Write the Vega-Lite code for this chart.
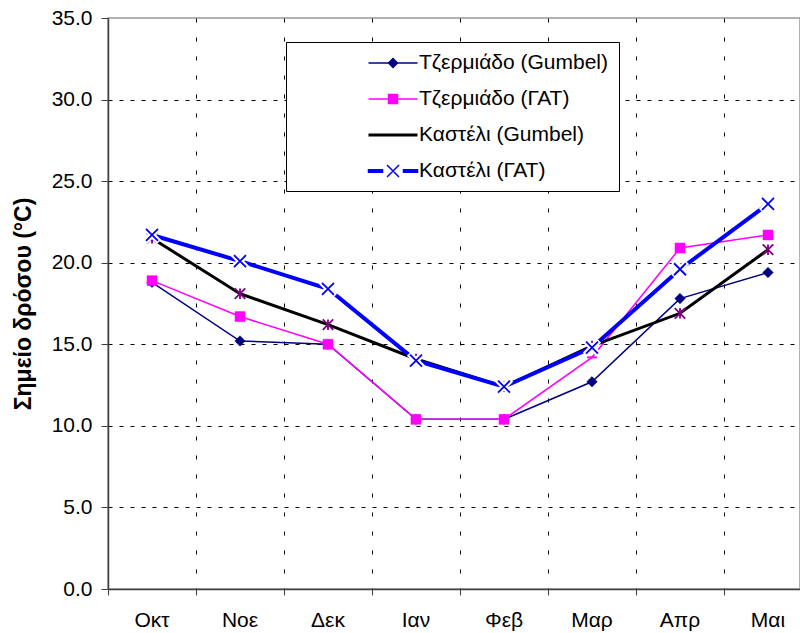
{
  "$schema": "https://vega.github.io/schema/vega-lite/v6.json",
  "width": 692,
  "height": 571,
  "autosize": "none",
  "padding": {"left": 108, "top": 18, "right": 0, "bottom": 44},
  "background": "white",
  "config": {
    "view": {"stroke": "#999999", "strokeWidth": 1.5},
    "font": "Liberation Sans"
  },
  "data": {
    "values": [
      {"month": "Οκτ", "series": "Τζερμιάδο (Gumbel)", "value": 18.8},
      {"month": "Νοε", "series": "Τζερμιάδο (Gumbel)", "value": 15.2},
      {"month": "Δεκ", "series": "Τζερμιάδο (Gumbel)", "value": 15.0},
      {"month": "Ιαν", "series": "Τζερμιάδο (Gumbel)", "value": 10.4},
      {"month": "Φεβ", "series": "Τζερμιάδο (Gumbel)", "value": 10.4},
      {"month": "Μαρ", "series": "Τζερμιάδο (Gumbel)", "value": 12.7},
      {"month": "Απρ", "series": "Τζερμιάδο (Gumbel)", "value": 17.8},
      {"month": "Μαι", "series": "Τζερμιάδο (Gumbel)", "value": 19.4},
      {"month": "Οκτ", "series": "Τζερμιάδο (ΓΑΤ)", "value": 18.9},
      {"month": "Νοε", "series": "Τζερμιάδο (ΓΑΤ)", "value": 16.7},
      {"month": "Δεκ", "series": "Τζερμιάδο (ΓΑΤ)", "value": 15.0},
      {"month": "Ιαν", "series": "Τζερμιάδο (ΓΑΤ)", "value": 10.4},
      {"month": "Φεβ", "series": "Τζερμιάδο (ΓΑΤ)", "value": 10.4},
      {"month": "Μαρ", "series": "Τζερμιάδο (ΓΑΤ)", "value": 14.2},
      {"month": "Απρ", "series": "Τζερμιάδο (ΓΑΤ)", "value": 20.9},
      {"month": "Μαι", "series": "Τζερμιάδο (ΓΑΤ)", "value": 21.7},
      {"month": "Οκτ", "series": "Καστέλι (Gumbel)", "value": 21.5},
      {"month": "Νοε", "series": "Καστέλι (Gumbel)", "value": 18.1},
      {"month": "Δεκ", "series": "Καστέλι (Gumbel)", "value": 16.2},
      {"month": "Ιαν", "series": "Καστέλι (Gumbel)", "value": 14.1},
      {"month": "Φεβ", "series": "Καστέλι (Gumbel)", "value": 12.4},
      {"month": "Μαρ", "series": "Καστέλι (Gumbel)", "value": 14.9},
      {"month": "Απρ", "series": "Καστέλι (Gumbel)", "value": 16.9},
      {"month": "Μαι", "series": "Καστέλι (Gumbel)", "value": 20.8},
      {"month": "Οκτ", "series": "Καστέλι (ΓΑΤ)", "value": 21.7},
      {"month": "Νοε", "series": "Καστέλι (ΓΑΤ)", "value": 20.1},
      {"month": "Δεκ", "series": "Καστέλι (ΓΑΤ)", "value": 18.4},
      {"month": "Ιαν", "series": "Καστέλι (ΓΑΤ)", "value": 14.0},
      {"month": "Φεβ", "series": "Καστέλι (ΓΑΤ)", "value": 12.4},
      {"month": "Μαρ", "series": "Καστέλι (ΓΑΤ)", "value": 14.8},
      {"month": "Απρ", "series": "Καστέλι (ΓΑΤ)", "value": 19.6},
      {"month": "Μαι", "series": "Καστέλι (ΓΑΤ)", "value": 23.6}
    ]
  },
  "encoding": {
    "x": {
      "field": "month",
      "type": "nominal",
      "sort": ["Οκτ", "Νοε", "Δεκ", "Ιαν", "Φεβ", "Μαρ", "Απρ", "Μαι"],
      "scale": {"type": "band", "range": [0, 704], "paddingInner": 0, "paddingOuter": 0},
      "axis": {
        "title": null,
        "bandPosition": 0,
        "labelAngle": 0,
        "labelFontSize": 21,
        "labelColor": "black",
        "labelPadding": 14,
        "tickSize": 6,
        "tickColor": "#404040",
        "domainColor": "#404040",
        "domainWidth": 1.5,
        "grid": true,
        "gridColor": "black",
        "gridDash": [4, 15],
        "gridOpacity": {"condition": {"test": "datum.value === 'Οκτ'", "value": 0}, "value": 1}
      }
    },
    "y": {
      "field": "value",
      "type": "quantitative",
      "scale": {"domain": [0, 35], "nice": false},
      "axis": {
        "title": "Σημείο δρόσου (°C)",
        "titleFontSize": 23,
        "titleFontWeight": "bold",
        "titleColor": "black",
        "titlePadding": 16,
        "values": [0, 5, 10, 15, 20, 25, 30, 35],
        "format": ".1f",
        "labelFontSize": 21,
        "labelColor": "black",
        "labelPadding": 9,
        "tickSize": 7,
        "tickColor": "#404040",
        "domainColor": "#404040",
        "domainWidth": 1.5,
        "grid": true,
        "gridColor": "black",
        "gridDash": [4, 7],
        "gridOpacity": {"condition": {"test": "datum.value == 0 || datum.value == 35", "value": 0}, "value": 1}
      }
    }
  },
  "layer": [
    {
      "transform": [{"filter": "datum.series === 'Τζερμιάδο (Gumbel)'"}],
      "mark": {"type": "line", "strokeWidth": 1.5},
      "encoding": {
        "color": {
          "field": "series",
          "type": "nominal",
          "scale": {
            "domain": ["Τζερμιάδο (Gumbel)", "Τζερμιάδο (ΓΑΤ)", "Καστέλι (Gumbel)", "Καστέλι (ΓΑΤ)"],
            "range": ["#000080", "#FF00FF", "#000000", "#0000FF"]
          },
          "legend": {
            "title": null,
            "orient": "none",
            "legendX": 178,
            "legendY": 24,
            "padding": 10,
            "strokeColor": "#000000",
            "fillColor": "#ffffff",
            "labelFont": "Liberation Sans",
            "labelFontSize": 21,
            "labelColor": "#000000",
            "labelOffset": 0,
            "labelLimit": 400,
            "rowPadding": 15,
            "symbolSize": 100,
            "encoding": {
              "labels": {"dx": {"value": 123}, "dy": {"value": 11}},
              "symbols": {
                "shape": {"value": {"expr": "['M14.5,2.2H24.3M19.4,1.3L20.3,2.2L19.4,3.1L18.5,2.2Z','M14.5,2.2H24.3M18.5,1.3H20.3V3.1H18.5Z','M14.5,2.2H24.3','M14.5,1.95H17.3V2.45H14.5ZM21.5,1.95H24.3V2.45H21.5ZM18.2,1L20.6,3.4M18.2,3.4L20.6,1'][indexof(['Τζερμιάδο (Gumbel)','Τζερμιάδο (ΓΑΤ)','Καστέλι (Gumbel)','Καστέλι (ΓΑΤ)'], datum.value)]"}},
                "fill": {"value": {"expr": "['#000080','#FF00FF','transparent','#0000FF'][indexof(['Τζερμιάδο (Gumbel)','Τζερμιάδο (ΓΑΤ)','Καστέλι (Gumbel)','Καστέλι (ΓΑΤ)'], datum.value)]"}},
                "stroke": {"value": {"expr": "['#000080','#FF00FF','#000000','#0000FF'][indexof(['Τζερμιάδο (Gumbel)','Τζερμιάδο (ΓΑΤ)','Καστέλι (Gumbel)','Καστέλι (ΓΑΤ)'], datum.value)]"}},
                "strokeWidth": {"value": {"expr": "[1.5,1.5,3,1.5][indexof(['Τζερμιάδο (Gumbel)','Τζερμιάδο (ΓΑΤ)','Καστέλι (Gumbel)','Καστέλι (ΓΑΤ)'], datum.value)]"}},
                "size": {"value": 100},
                "opacity": {"value": 1}
              }
            }
          }
        }
      }
    },
    {
      "transform": [{"filter": "datum.series === 'Τζερμιάδο (Gumbel)'"}],
      "mark": {"type": "point", "shape": "diamond", "filled": true, "fill": "#000080", "stroke": "#000080", "strokeWidth": 0.5, "size": 110, "opacity": 1}
    },
    {
      "transform": [{"filter": "datum.series === 'Τζερμιάδο (ΓΑΤ)'"}],
      "mark": {"type": "line", "strokeWidth": 1.5},
      "encoding": {"color": {"field": "series", "type": "nominal"}}
    },
    {
      "transform": [{"filter": "datum.series === 'Τζερμιάδο (ΓΑΤ)' && datum.month !== 'Μαρ'"}],
      "mark": {"type": "point", "shape": "square", "filled": true, "fill": "#FF00FF", "stroke": "#FF00FF", "strokeWidth": 0.5, "size": 100, "opacity": 1}
    },
    {
      "transform": [{"filter": "datum.series === 'Τζερμιάδο (ΓΑΤ)' && datum.month === 'Μαρ'"}],
      "mark": {"type": "point", "shape": "M-1,0H1", "filled": false, "stroke": "#FF00FF", "strokeWidth": 2, "size": 100, "opacity": 1}
    },
    {
      "transform": [{"filter": "datum.series === 'Καστέλι (Gumbel)'"}],
      "mark": {"type": "line", "strokeWidth": 3},
      "encoding": {"color": {"field": "series", "type": "nominal"}}
    },
    {
      "transform": [{"filter": "datum.series === 'Καστέλι (Gumbel)'"}],
      "mark": {"type": "point", "shape": "M-1,-1L1,1M-1,1L1,-1M0,-1L0,1", "filled": false, "stroke": "#800080", "strokeWidth": 1.8, "size": 110, "opacity": 1}
    },
    {
      "transform": [{"filter": "datum.series === 'Καστέλι (ΓΑΤ)'"}],
      "mark": {"type": "line", "strokeWidth": 4},
      "encoding": {"color": {"field": "series", "type": "nominal"}}
    },
    {
      "transform": [{"filter": "datum.series === 'Καστέλι (ΓΑΤ)'"}],
      "mark": {"type": "point", "shape": "M-1,-1L1,1M-1,1L1,-1", "filled": false, "stroke": "#ffffff", "strokeWidth": 6, "size": 196, "opacity": 1}
    },
    {
      "transform": [{"filter": "datum.series === 'Καστέλι (ΓΑΤ)'"}],
      "mark": {"type": "point", "shape": "M-1,-1L1,1M-1,1L1,-1", "filled": false, "stroke": "#0000FF", "strokeWidth": 1.8, "size": 144, "opacity": 1}
    }
  ]
}
